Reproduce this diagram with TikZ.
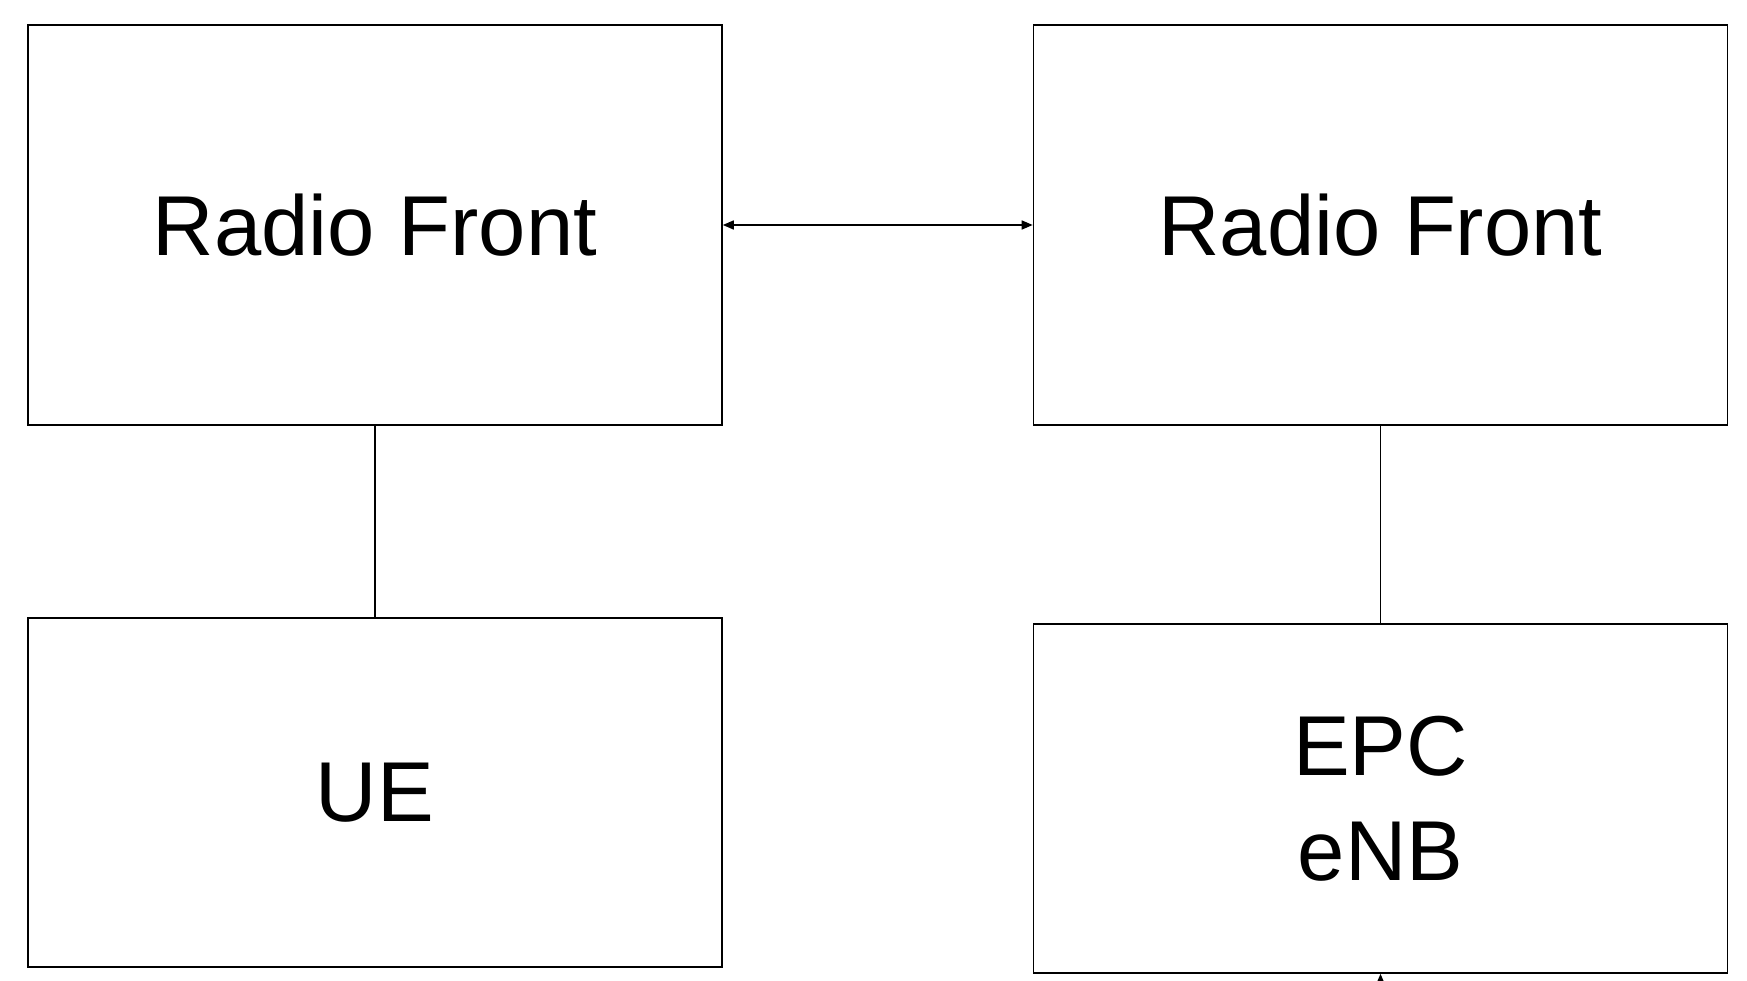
\documentclass[tikz,border=0pt]{standalone}
\usepackage{fontspec}
\setmainfont{Liberation Sans}
\usetikzlibrary{arrows.meta}
\begin{document}
\begin{tikzpicture}[x=1pt,y=-1pt,
  >={Triangle[length=11pt,width=9pt]},
  blk/.style={draw=black, line width=1.6pt, minimum width=694pt, inner sep=0pt, font=\fontsize{85}{105}\selectfont, align=center},
  conn/.style={draw=black, line width=1.6pt}]
\useasboundingbox (0,0) rectangle (1747,981);
\clip (0,0) rectangle (1747,981);
\node[blk, minimum height=400pt] (rf1) at (375,225) {Radio Front};
\node[blk, minimum height=400pt] (rf2) at (1380.5,225) {Radio Front};
\node[blk, minimum height=349pt] (ue) at (375,792.5) {UE};
\node[blk, minimum height=349pt] (epc) at (1380.5,798.5) {EPC\\eNB};
\draw[conn, <->] (rf1.east) -- (rf2.west);
\draw[conn] (rf1.south) -- (ue.north);
\draw[conn] (rf2.south) -- (epc.north);
\coordinate (below) at (1380.5,1010);
\draw[conn, ->] (below) -- (epc.south);
\end{tikzpicture}
\end{document}
